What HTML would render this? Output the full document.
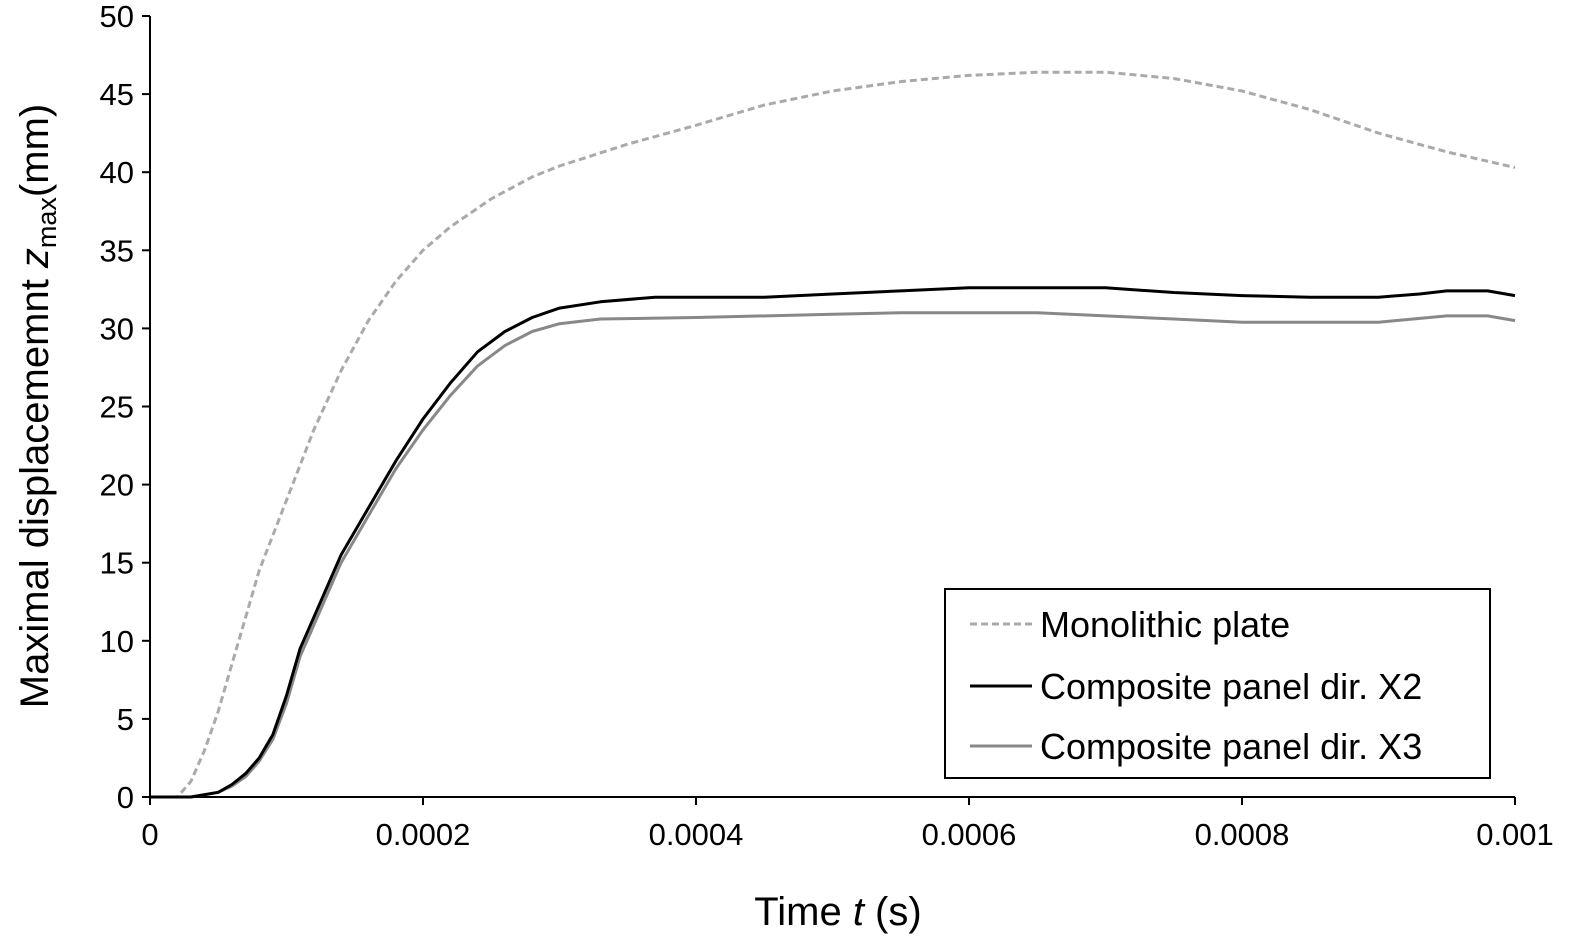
<!DOCTYPE html>
<html><head><meta charset="utf-8"><style>
body{margin:0;background:#fff;}
svg{display:block;font-family:"Liberation Sans",Arial,sans-serif;}
</style></head><body>
<svg id="chart" width="1591" height="952">
<g id="axes"></g><g id="series"></g>
<g>
<rect x="945" y="589" width="545" height="189" fill="#fff" stroke="#000" stroke-width="2"/>
<line x1="970" y1="624" x2="1032" y2="624" stroke="#aaa" stroke-width="3" stroke-dasharray="7,4"/>
<text x="1040" y="637" font-size="36">Monolithic plate</text>
<line x1="970" y1="686" x2="1032" y2="686" stroke="#000" stroke-width="3"/>
<text x="1040" y="699" font-size="36">Composite panel dir. X2</text>
<line x1="970" y1="746" x2="1032" y2="746" stroke="#888" stroke-width="3"/>
<text x="1040" y="759" font-size="36">Composite panel dir. X3</text>
</g>
<text x="838" y="925" font-size="40" text-anchor="middle">Time <tspan font-style="italic">t</tspan> (s)</text>
<text transform="translate(48,406) rotate(-90)" font-size="40" text-anchor="middle">Maximal displacememnt <tspan font-style="italic">z</tspan><tspan font-size="27" dy="8">max</tspan><tspan dy="-8">(mm)</tspan></text>
</svg>
<script>
const tMono=[0,2,3,4,5,6,7,8,10,12,14,16,18,20,22,25,28,30,35,40,45,50,55,60,65,70,75,80,85,90,95,100];
const vMono=[0,0,1,3,5.5,8.5,11.5,14.5,19,23.5,27.3,30.5,33,35,36.5,38.3,39.7,40.4,41.8,43,44.3,45.2,45.8,46.2,46.4,46.4,46,45.2,44,42.5,41.3,40.3];
const tX2=[0,3,5,6,7,8,9,10,11,12,14,16,18,20,22,24,26,28,30,33,37,45,50,55,60,65,70,75,80,85,90,93,95,98,100];
const vX2=[0,0,0.3,0.8,1.5,2.5,4,6.5,9.5,11.5,15.5,18.5,21.5,24.2,26.5,28.5,29.8,30.7,31.3,31.7,32,32,32.2,32.4,32.6,32.6,32.6,32.3,32.1,32,32,32.2,32.4,32.4,32.1];
const tX3=[0,3,5,6,7,8,9,10,11,12,14,16,18,20,22,24,26,28,30,33,40,50,55,65,70,75,80,90,95,98,100];
const vX3=[0,0,0.3,0.7,1.3,2.3,3.7,6,9,11,15,18,21,23.5,25.7,27.6,28.9,29.8,30.3,30.6,30.7,30.9,31,31,30.8,30.6,30.4,30.4,30.8,30.8,30.5];
const xTicks=[0,0.0002,0.0004,0.0006,0.0008,0.001];
const xTickLabels=["0","0.0002","0.0004","0.0006","0.0008","0.001"];
const yTicks=[0,5,10,15,20,25,30,35,40,45,50];
const X0=150,X1=1515,Y0=797,Y1=16;
const xs=t=>X0+(t/0.001)*(X1-X0);
const ys=v=>Y0-(v/50)*(Y0-Y1);
const NS="http://www.w3.org/2000/svg";
const axes=document.getElementById('axes'),ser=document.getElementById('series');
function mk(tag,attrs,parent,txt){const e=document.createElementNS(NS,tag);for(const k in attrs)e.setAttribute(k,attrs[k]);if(txt!==undefined)e.textContent=txt;parent.appendChild(e);return e;}
let a=mk('path',{d:`M${X0},${Y1}V${Y0}H${X1}`,fill:'none',stroke:'#000','stroke-width':2},axes);


yTicks.forEach(v=>{
  const l=mk('line',{x1:X0-8,x2:X0,y1:ys(v),y2:ys(v),stroke:'#000','stroke-width':2},axes);
  
  
  const t=mk('text',{x:X0-16,y:ys(v)+11,'font-size':31,'text-anchor':'end'},axes,String(v));
  
  
});
xTicks.forEach((v,i)=>{
  const l=mk('line',{x1:xs(v),x2:xs(v),y1:Y0,y2:Y0+8,stroke:'#000','stroke-width':2},axes);
  
  
  const t=mk('text',{x:xs(v),y:Y0+48,'font-size':31,'text-anchor':'middle'},axes,xTickLabels[i]);
  
  
});
function line(ts,vs,color,dash,name){
  const d=ts.map((t,i)=>(i?'L':'M')+xs(t*1e-5).toFixed(1)+','+ys(vs[i]).toFixed(1)).join('');
  const p=mk('path',{d,fill:'none',stroke:color,'stroke-width':3,'stroke-linejoin':'round'},ser);
  if(dash)p.setAttribute('stroke-dasharray',dash);
  
  
}
line(tMono,vMono,'#aaa','7,4','series-monolithic');
line(tX3,vX3,'#888',null,'series-x3');
line(tX2,vX2,'#000',null,'series-x2');
</script>
</body></html>
